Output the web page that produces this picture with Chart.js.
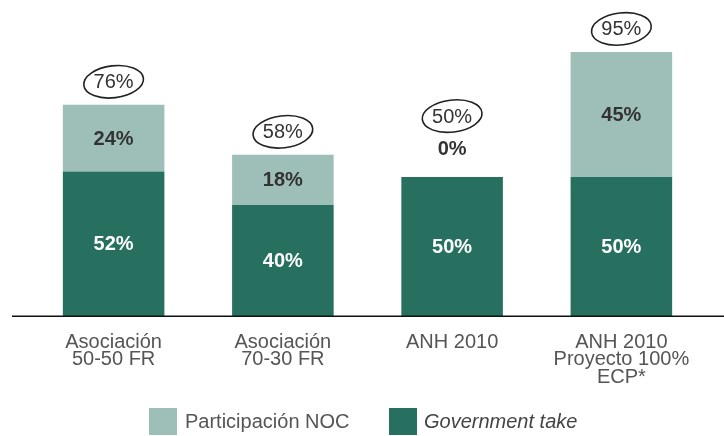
<!DOCTYPE html>
<html>
<head>
<meta charset="utf-8">
<script src="https://cdn.jsdelivr.net/npm/chart.js@4"></script>
<style>
  html, body { margin: 0; padding: 0; background: #fff; }
  #wrap { width: 724px; height: 436px; }
</style>
</head>
<body>
<div id="wrap"><canvas id="grafico"></canvas></div>
<script>
// datos
const categorias = [
  ["Asociación", "50-50 FR"],
  ["Asociación", "70-30 FR"],
  ["ANH 2010"],
  ["ANH 2010", "Proyecto 100%", "ECP*"]
];
const governmentTake = [52, 40, 50, 50];
const participacionNOC = [24, 18, 0, 45];
const totales = [76, 58, 50, 95];

const verdeOscuro = "#27705f";
const verdeClaro = "#9dbfb8";
const fuente = "'Liberation Sans', Arial, sans-serif";

// etiquetas, linea base, elipses y leyenda
const extras = {
  id: "extras",
  afterDatasetsDraw(chart) {
    const ctx = chart.ctx;
    const y0 = chart.scales.y.getPixelForValue(0);
    const metaG = chart.getDatasetMeta(0);
    const metaN = chart.getDatasetMeta(1);

    ctx.save();
    // linea base
    ctx.strokeStyle = "#111";
    ctx.lineWidth = 1.5;
    ctx.beginPath();
    ctx.moveTo(12, y0);
    ctx.lineTo(chart.width, y0);
    ctx.stroke();

    ctx.textAlign = "center";
    ctx.textBaseline = "middle";
    metaG.data.forEach((bar, i) => {
      const x = bar.x;
      // government take
      ctx.font = "bold 20px " + fuente;
      ctx.fillStyle = "#ffffff";
      ctx.fillText(governmentTake[i] + "%", x, (bar.y + bar.base) / 2 + 1);

      // participacion NOC
      const barN = metaN.data[i];
      ctx.fillStyle = "#333";
      let top = barN.y;
      if (participacionNOC[i] > 0) {
        ctx.fillText(participacionNOC[i] + "%", x, (barN.y + barN.base) / 2 + 1);
      } else {
        ctx.fillText(participacionNOC[i] + "%", x, top - 28);
        top = top - 38;
      }

      // total en elipse
      const cy = top - 23;
      ctx.strokeStyle = "#222";
      ctx.lineWidth = 1.6;
      ctx.beginPath();
      ctx.ellipse(x, cy, 30, 16, -0.12, 0, Math.PI * 2);
      ctx.stroke();
      ctx.font = "20px " + fuente;
      ctx.fillStyle = "#333";
      ctx.fillText(totales[i] + "%", x, cy + 1);
    });

    // leyenda
    const ly = 408;
    ctx.textAlign = "left";
    ctx.fillStyle = verdeClaro;
    ctx.fillRect(149, ly, 28, 27);
    ctx.fillStyle = "#555";
    ctx.font = "20px " + fuente;
    ctx.fillText(chart.data.datasets[1].label, 185, ly + 14);

    ctx.fillStyle = verdeOscuro;
    ctx.fillRect(389, ly, 28, 27);
    ctx.fillStyle = "#444";
    ctx.font = "italic 20px " + fuente;
    ctx.fillText(chart.data.datasets[0].label, 424, ly + 14);
    ctx.restore();
  }
};

const ctx = document.getElementById("grafico").getContext("2d");
new Chart(ctx, {
  type: "bar",
  data: {
    labels: categorias,
    datasets: [
      {
        label: "Government take",
        data: governmentTake,
        backgroundColor: verdeOscuro
      },
      {
        label: "Participación NOC",
        data: participacionNOC,
        backgroundColor: verdeClaro
      }
    ]
  },
  options: {
    responsive: true,
    maintainAspectRatio: false,
    animation: false,
    layout: { padding: { left: 29, right: 18, top: 38, bottom: 33 } },
    datasets: { bar: { barPercentage: 0.6, categoryPercentage: 1 } },
    plugins: {
      legend: { display: false },
      tooltip: { enabled: false }
    },
    scales: {
      x: {
        stacked: true,
        grid: { display: false, drawTicks: false },
        border: { display: false },
        ticks: {
          color: "#555",
          padding: 17,
          maxRotation: 0,
          font: { family: fuente, size: 20, lineHeight: 0.88 }
        }
      },
      y: {
        stacked: true,
        display: false,
        min: 0,
        max: 100
      }
    }
  },
  plugins: [extras]
});
</script>
</body>
</html>
